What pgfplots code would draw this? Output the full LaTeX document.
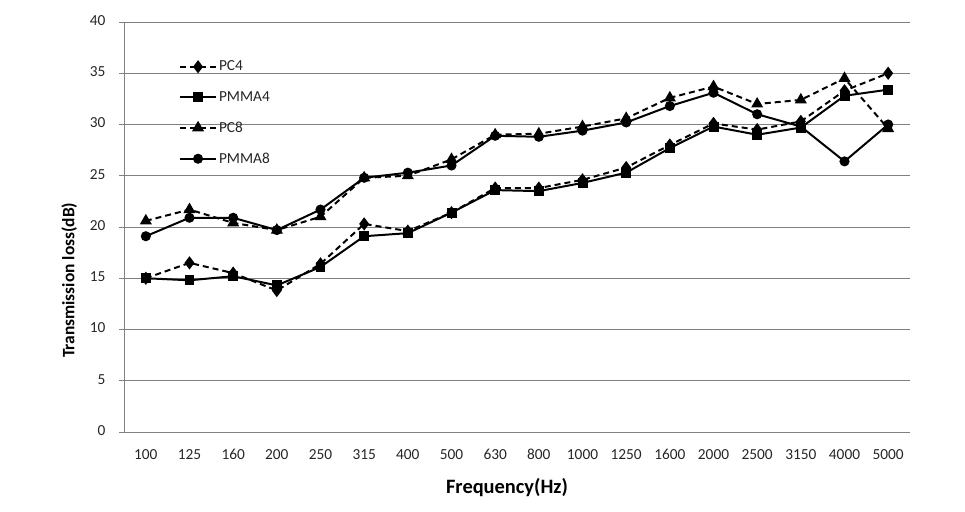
\documentclass[border=0pt]{standalone}
\usepackage{pgfplots}
\pgfplotsset{compat=1.18}
\usepackage{pgfplotstable}
\usepackage{fontspec}
\setmainfont{Carlito}
\pgfplotstableread{
x PCf PMMAf PCe PMMAe
0 15.0 15.0 20.6 19.1
1 16.5 14.8 21.7 20.9
2 15.5 15.2 20.4 20.9
3 13.8 14.3 19.7 19.7
4 16.4 16.1 21.0 21.7
5 20.3 19.1 24.8 24.8
6 19.6 19.4 25.0 25.3
7 21.4 21.4 26.6 26.0
8 23.8 23.6 29.0 28.9
9 23.8 23.5 29.1 28.8
10 24.6 24.3 29.8 29.4
11 25.8 25.3 30.6 30.2
12 28.0 27.7 32.6 31.8
13 30.1 29.8 33.7 33.1
14 29.5 29.0 32.0 31.0
15 30.3 29.7 32.4 29.8
16 33.3 32.8 34.5 26.4
17 35.0 33.4 29.6 30.0
}\datatable
\begin{document}
\begin{tikzpicture}
\begin{axis}[
  scale only axis,
  width=786bp, height=410bp,
  xmin=-0.5, xmax=17.5,
  ymin=0, ymax=40,
  ytick={0,5,...,40},
  xtick={0,...,17},
  xticklabels={100,125,160,200,250,315,400,500,630,800,1000,1250,1600,2000,2500,3150,4000,5000},
  /pgf/number format/assume math mode=true,
  typeset ticklabels with strut,
  ticklabel style={font=\fontsize{15.4}{17}\selectfont, text=black!85},
  x tick style={draw=none},
  y tick style={draw=gray, line width=0.8pt},
  tick align=outside,
  major tick length=5bp,
  axis x line*=bottom,
  axis y line*=left,
  axis line style={draw=gray, line width=0.8pt, -},
  ymajorgrids,
  grid style={draw=gray, line width=0.8pt},
  xlabel={Frequency(Hz)},
  ylabel={Transmission loss(dB)},
  xlabel style={font=\bfseries\fontsize{20.5}{22}\selectfont, yshift=-7bp, xshift=-10bp},
  ylabel style={font=\bfseries\fontsize{17.5}{19}\selectfont, at={(ticklabel cs:0.37)}, yshift=6bp},
  xticklabel style={yshift=-7bp},
  yticklabel style={xshift=-10bp},
  legend style={draw=none, fill=none, at={(rel axis cs:0.066,0.915)}, anchor=north west,
    font=\fontsize{15.4}{17}\selectfont, row sep=15bp, text=black!85},
  legend cell align=left,
  legend image code/.code={\draw[#1, mark repeat=2, mark phase=2] plot coordinates {(0bp,0bp) (18bp,0bp) (36bp,0bp)};},
]
\addplot[black, line width=2pt, dash pattern=on 6bp off 4bp, mark=diamond*, mark size=5bp, mark options={solid, fill=black}] table[x=x,y=PCf]{\datatable};
\addlegendentry{PC4}
\addplot[black, line width=2pt, mark=square*, mark size=4bp, mark options={solid, fill=black}] table[x=x,y=PMMAf]{\datatable};
\addlegendentry{PMMA4}
\addplot[black, line width=2pt, dash pattern=on 6bp off 4bp, mark=triangle*, mark size=5bp, mark options={solid, fill=black}] table[x=x,y=PCe]{\datatable};
\addlegendentry{PC8}
\addplot[black, line width=2pt, mark=*, mark size=4bp, mark options={solid, fill=black}] table[x=x,y=PMMAe]{\datatable};
\addlegendentry{PMMA8}
\end{axis}
\path (current axis.south west) ++(-124bp,-80bp) coordinate (bba);
\path (current axis.north east) ++(55bp,22bp) coordinate (bbb);
\pgfresetboundingbox
\path (bba) rectangle (bbb);
\end{tikzpicture}
\end{document}
